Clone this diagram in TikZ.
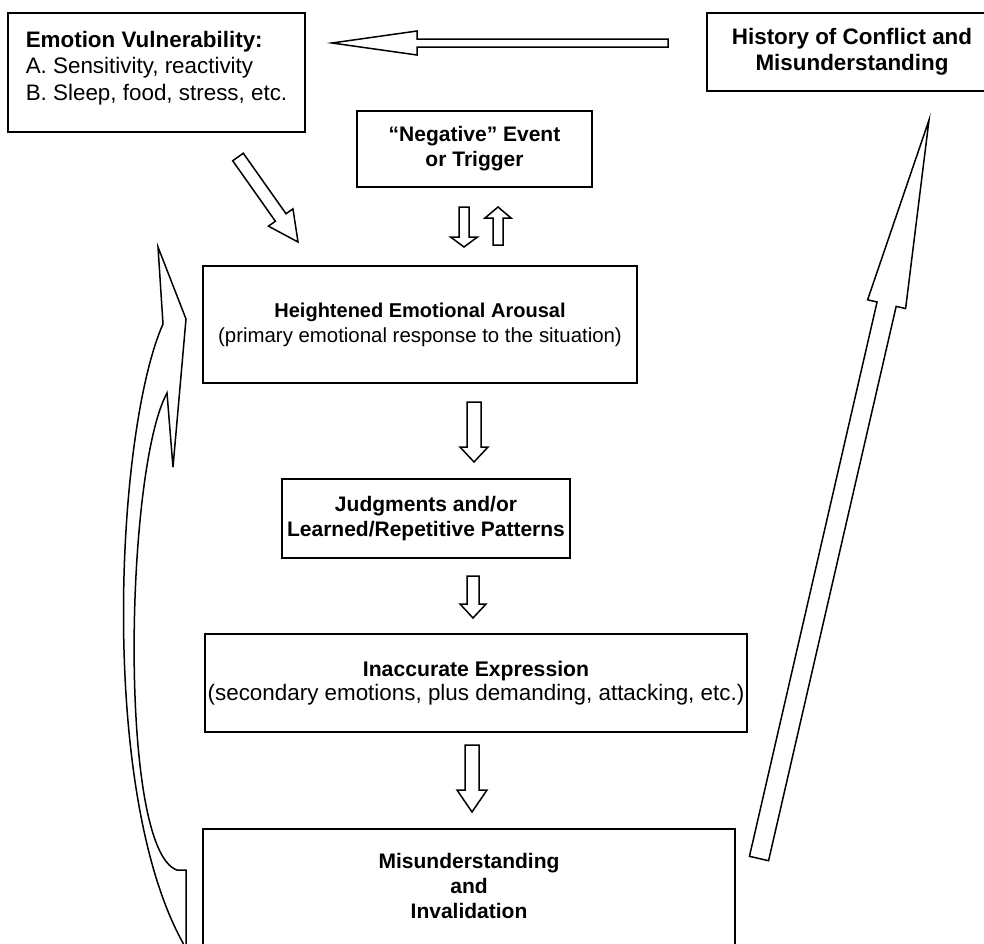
\documentclass[tikz,border=0pt]{standalone}
\usepackage{fontspec}
\setmainfont{Liberation Sans}
\usetikzlibrary{calc}

% block arrow: tail, tip, shaft half width, head half width, head length
\newcommand{\blockarrow}[5]{%
  \coordinate (hb) at ($(#2)!#5!(#1)$);
  \draw[blockarr] ($(#1)!#3!90:(#2)$) -- ($(hb)!#3!90:(#2)$) -- ($(hb)!#4!90:(#2)$) -- (#2)
    -- ($(hb)!#4!-90:(#2)$) -- ($(hb)!#3!-90:(#2)$) -- ($(#1)!#3!-90:(#2)$) -- cycle;}

\begin{document}
\begin{tikzpicture}[x=0.5pt, y=-0.5pt,
  box/.style={draw, line width=1pt, align=center, inner sep=0pt,
    font=\fontsize{10.5}{12.5}\selectfont},
  boldbox/.style={box, font=\fontsize{10.5}{12.5}\selectfont\bfseries},
  blockarr/.style={draw, line width=0.75pt, fill=white, line join=miter}]
\useasboundingbox (0,0) rectangle (984,943);
\clip (0,0) rectangle (984,943);

\node[box, minimum width=148.5pt, minimum height=59.5pt, align=left, font=\fontsize{11.2}{13.2}\selectfont] (vuln) at (156.5,72.5)
  {\textbf{Emotion Vulnerability:}\\A. Sensitivity, reactivity\\B. Sleep, food, stress, etc.\rule[-7pt]{0pt}{0pt}};
\node[boldbox, minimum width=145pt, minimum height=39pt, font=\fontsize{11.2}{13}\selectfont\bfseries] (history) at (852,52)
  {History of Conflict and\\Misunderstanding};
\node[boldbox, minimum width=117.5pt, minimum height=38pt] (trigger) at (474.5,149)
  {“Negative” Event\\or Trigger};
\node[box, minimum width=217pt, minimum height=58.5pt, font=\fontsize{10.2}{12.5}\selectfont] (arousal) at (420,324.5)
  {{\fontsize{10}{12.5}\selectfont\bfseries Heightened Emotional Arousal}\\(primary emotional response to the situation)};
\node[boldbox, minimum width=144pt, minimum height=39.5pt] (judgments) at (426,518.5)
  {Judgments and/or\\Learned/Repetitive Patterns};
\node[box, minimum width=271pt, minimum height=49pt, font=\fontsize{11.2}{12.2}\selectfont] (expression) at (476,683)
  {{\fontsize{10.6}{12.2}\selectfont\bfseries Inaccurate Expression}\\(secondary emotions, plus demanding, attacking, etc.)};
\node[boldbox, minimum width=266pt, minimum height=60pt] (invalidation) at (469,889)
  {Misunderstanding\\and\\Invalidation\rule[-3pt]{0pt}{0pt}};

% arrow ends
\coordinate (histTail) at (668,43);
\coordinate (histTip) at (332,43);
\coordinate (vulnTail) at (238,157);
\coordinate (vulnTip) at (298,242);
\coordinate (trigDownTail) at (464,207);
\coordinate (trigDownTip) at (464,247);
\coordinate (trigUpTail) at (498,245);
\coordinate (trigUpTip) at (498,207);
\coordinate (arousalTail) at (474,402);
\coordinate (arousalTip) at (474,462);
\coordinate (judgTail) at (473,576);
\coordinate (judgTip) at (473,618);
\coordinate (exprTail) at (472,745);
\coordinate (exprTip) at (472,812);
\coordinate (invalTail) at (759,858.5);
\coordinate (invalTip) at (929,120);

\blockarrow{histTail}{histTip}{2pt}{6pt}{42.5pt}
\blockarrow{vulnTail}{vulnTip}{3.25pt}{7.5pt}{15pt}
\blockarrow{trigDownTail}{trigDownTip}{2.5pt}{6.75pt}{5pt}
\blockarrow{trigUpTail}{trigUpTip}{2.5pt}{6.5pt}{5.5pt}
\blockarrow{arousalTail}{arousalTip}{3.5pt}{7pt}{7.5pt}
\blockarrow{judgTail}{judgTip}{3pt}{6.5pt}{7pt}
\blockarrow{exprTail}{exprTip}{3.5pt}{7.5pt}{11pt}
\blockarrow{invalTail}{invalTip}{4.9pt}{9.75pt}{94.5pt}

% curved arrow back up the left side
\draw[blockarr] (158,247) -- (186,319) -- (173,467) -- (167,393)
  .. controls (125,470) and (118,850) .. (177,870) -- (186,870) -- (186,960) -- (183,960)
  -- (183,943) .. controls (98,790) and (116,430) .. (163,324) -- cycle;
\end{tikzpicture}
\end{document}
